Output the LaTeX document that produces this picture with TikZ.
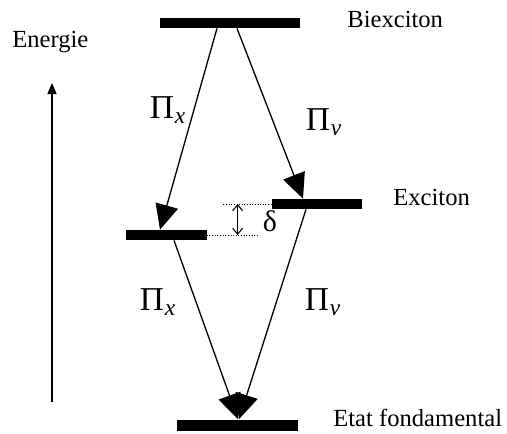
\documentclass[tikz,border=0pt]{standalone}
\usepackage{fontspec}
\setmainfont{Liberation Serif}
\usetikzlibrary{arrows.meta,calc}
\tikzset{
  level/.style={fill=black,inner sep=0pt,minimum height=2mm},
  trans/.style={line width=0.75pt,-{Triangle[length=5mm,width=4.6mm]}},
  lbl/.style={font=\fontsize{14}{16}\selectfont,inner sep=0pt,anchor=base west},
  pol/.style={font=\fontsize{19}{21}\selectfont,inner sep=0pt}
}
\newcommand{\polar}[1]{Π\kern0.5pt$_{\mathit{#1}}$}
\begin{document}
\begin{tikzpicture}[x=0.2mm,y=-0.2mm]
\useasboundingbox (0,0) rectangle (507,433);

\node[level,minimum width=28mm] (biex) at (230,23) {};
\node[level,minimum width=16.2mm] (exx) at (166,235) {};
\node[level,minimum width=18mm] (exy) at (317,204) {};
\node[level,minimum width=24.2mm,minimum height=2.2mm] (gs) at (237,425) {};

\node[lbl] (tbiex) at (347,27) {Biexciton};
\node[lbl] (texc) at (393,205) {Exciton};
\node[lbl] (tgs) at (333,426) {Etat fondamental};
\node[lbl] (tener) at (12,47) {Energie};

\coordinate (elow) at (52,402);
\coordinate (etop) at (52,83);
\draw[line width=0.75pt,-{Triangle[length=2.2mm,width=1.8mm]}] (elow) -- (etop);

\draw[trans] ($(biex.south)+(-13,0)$) -- ($(exx.north)+(-6,0)$);
\draw[trans] ($(biex.south)+(7,0)$) -- ($(exy.north)+(-14,0)$);
\draw[trans] ($(exx.south)+(8,0)$) -- ($(gs.north)+(1,0)$);
\draw[trans] ($(exy.south)+(-11,0)$) -- ($(gs.north)+(2,0)$);

\node[pol] (px1) at (168,110) {\polar{x}};
\node[pol] (pv1) at (324,122) {\polar{v}};
\node[pol] (px2) at (158,302) {\polar{x}};
\node[pol] (pv2) at (323,302) {\polar{v}};

\draw[densely dotted,line width=0.5pt] (exy.west) -- ++(-50,0);
\draw[densely dotted,line width=0.5pt] (exx.east) -- ++(51,0);
\coordinate (dtop) at ($(exy.west)+(-34,0)$);
\coordinate (dbot) at ($(exx.east)+(31,0)$);
\draw[line width=0.6pt,{Straight Barb[length=1.2mm,width=2mm]}-{Straight Barb[length=1.2mm,width=2mm]}] (dtop) -- (dtop|-dbot);
\node[pol,font=\fontsize{17}{19}\selectfont] (delta) at (270,221) {δ};
\end{tikzpicture}
\end{document}
